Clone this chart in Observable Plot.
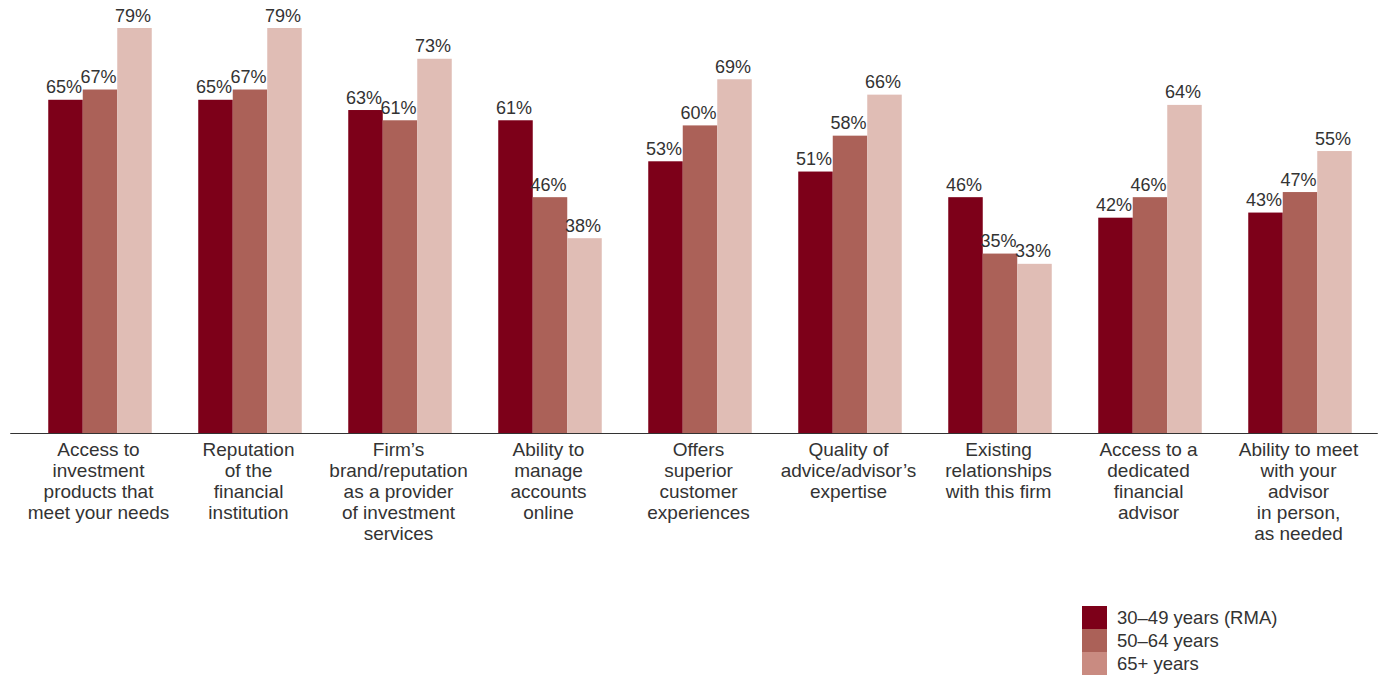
<!DOCTYPE html>
<html>
<head>
<meta charset="utf-8">
<script src="https://cdn.jsdelivr.net/npm/d3@7"></script>
<script src="https://cdn.jsdelivr.net/npm/@observablehq/plot@0.6"></script>
<style>
  body { margin: 0; background: #fff; font-family: "Liberation Sans", Arial, sans-serif; }
  #legend { margin-left: 1082px; margin-top: 16px; }
  .item { display: flex; align-items: center; height: 23px; }
  .sw { width: 25px; height: 23px; margin-right: 10px; }
  .lab { font-size: 18.5px; color: #333; }
</style>
</head>
<body>
<div id="chart"></div>
<div id="legend"></div>
<script>
const categories = [
  "Access to\ninvestment\nproducts that\nmeet your needs",
  "Reputation\nof the\nfinancial\ninstitution",
  "Firm’s\nbrand/reputation\nas a provider\nof investment\nservices",
  "Ability to\nmanage\naccounts\nonline",
  "Offers\nsuperior\ncustomer\nexperiences",
  "Quality of\nadvice/advisor’s\nexpertise",
  "Existing\nrelationships\nwith this firm",
  "Access to a\ndedicated\nfinancial\nadvisor",
  "Ability to meet\nwith your\nadvisor\nin person,\nas needed"
];
const series = ["30–49 years (RMA)", "50–64 years", "65+ years"];
const v30_49 = [65, 65, 63, 61, 53, 51, 46, 42, 43];
const v50_64 = [67, 67, 61, 46, 60, 58, 35, 46, 47];
const v65plus = [79, 79, 73, 38, 69, 66, 33, 64, 55];
const barColors = ["#7d0019", "#ab6158", "#e0bdb5"];
const legendColors = ["#7d0019", "#ab6158", "#c98b81"];

const values = [v30_49, v50_64, v65plus];
const data = [];
categories.forEach((c, i) => {
  series.forEach((s, j) => data.push({category: c, series: s, value: values[j][i]}));
});

const first = categories.slice(0, 1);
const last = categories.slice(-1);

const chart = Plot.plot({
  width: 1386,
  height: 590,
  marginLeft: 25,
  marginRight: 11,
  marginTop: 28,
  marginBottom: 157,
  style: {fontFamily: "'Liberation Sans', Arial, sans-serif", color: "#333", background: "#fff"},
  fx: {domain: categories, paddingInner: 0.31, paddingOuter: 0.155, round: false},
  x: {domain: series, padding: 0, axis: null, round: false},
  y: {domain: [0, d3.max(data, d => d.value)], axis: null},
  color: {domain: series, range: barColors},
  marks: [
    Plot.barY(data, {fx: "category", x: "series", y: "value", fill: "series"}),
    Plot.text(data, {fx: "category", x: "series", y: "value", text: d => d.value + "%",
      lineAnchor: "bottom", dy: -7, dx: -2, fontSize: 18, fill: "#333"}),
    Plot.ruleY(categories, {fx: d => d, y: d => 0, stroke: "#333", strokeWidth: 1.2, insetLeft: -24, insetRight: -24}),
    Plot.ruleY(first, {fx: d => d, y: d => 0, stroke: "#333", strokeWidth: 1.2, insetLeft: -38, insetRight: 0}),
    Plot.ruleY(last, {fx: d => d, y: d => 0, stroke: "#333", strokeWidth: 1.2, insetLeft: 0, insetRight: -26}),
    Plot.axisFx({anchor: "bottom", tickSize: 0, tickPadding: 8, dx: -2, fontSize: 19, lineHeight: 1.105, label: null, fill: "#333"})
  ]
});
document.getElementById("chart").appendChild(chart);

const legend = d3.select("#legend");
series.forEach((s, i) => {
  const it = legend.append("div").attr("class", "item");
  it.append("div").attr("class", "sw").style("background", legendColors[i]);
  it.append("div").attr("class", "lab").text(s);
});
</script>
</body>
</html>
